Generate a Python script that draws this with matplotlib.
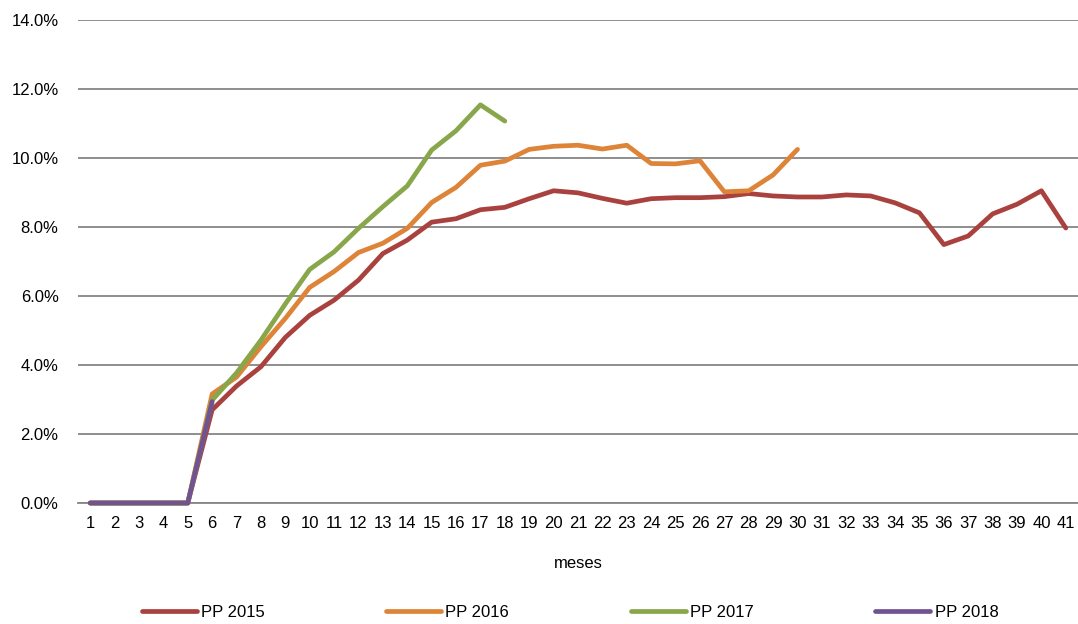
import matplotlib
matplotlib.use("Agg")
import matplotlib.pyplot as plt
from matplotlib.ticker import PercentFormatter

plt.rcParams['font.family'] = ['Liberation Sans', 'DejaVu Sans']

months = list(range(1, 42))

# values in %
pp2015 = [0, 0, 0, 0, 0, 2.70, 3.39, 3.95, 4.80, 5.44, 5.88, 6.46, 7.23, 7.62, 8.14,
          8.24, 8.50, 8.57, 8.82, 9.05, 8.99, 8.83, 8.69, 8.82, 8.85, 8.85, 8.88, 8.97,
          8.90, 8.87, 8.87, 8.93, 8.90, 8.70, 8.41, 7.49, 7.74, 8.38, 8.66, 9.05, 7.97]
pp2016 = [0, 0, 0, 0, 0, 3.16, 3.65, 4.53, 5.35, 6.25, 6.71, 7.26, 7.53, 7.96, 8.71,
          9.15, 9.79, 9.91, 10.25, 10.34, 10.37, 10.26, 10.37, 9.84, 9.83, 9.92, 9.02,
          9.05, 9.51, 10.25]
pp2017 = [0, 0, 0, 0, 0, 2.98, 3.77, 4.72, 5.77, 6.77, 7.28, 7.96, 8.59, 9.19, 10.23,
          10.79, 11.54, 11.07]
pp2018 = [0, 0, 0, 0, 0, 2.94]

series = [("PP 2015", pp2015, "#A9423F"),
          ("PP 2016", pp2016, "#DD8438"),
          ("PP 2017", pp2017, "#88A64A"),
          ("PP 2018", pp2018, "#705491")]

fig = plt.figure(figsize=(10.78, 6.24), dpi=100)
ax = fig.add_axes([78/1078, 1 - 503/624, 1000/1078, 483/624])

for name, vals, col in series:
    ax.plot(months[:len(vals)], vals, color=col, lw=3.4, label=name,
            solid_capstyle="round", solid_joinstyle="round", zorder=3,
            clip_on=False)

ax.set_xlim(0.5, 41.5)
ax.set_ylim(0, 14)
ax.set_yticks([0, 2, 4, 6, 8, 10, 12, 14])
ax.yaxis.set_major_formatter(PercentFormatter(decimals=1))
ax.set_xticks(months)
ax.grid(axis="y", color="#868686", lw=1.3)
ax.set_axisbelow(True)
for s in ["top", "right", "left"]:
    ax.spines[s].set_visible(False)
ax.spines["bottom"].set_color("#868686")
ax.spines["bottom"].set_linewidth(1.3)
ax.tick_params(axis="both", length=0, labelsize=12, colors="black")
ax.tick_params(axis="x", pad=9)
ax.tick_params(axis="y", pad=14)
ax.set_xlabel("meses", fontsize=12, labelpad=18)

ax.legend(loc="center", bbox_to_anchor=(0.492, -0.2257), ncol=4,
          frameon=False, fontsize=12, handlelength=3.3, handletextpad=0.25,
          columnspacing=7.3)

fig.savefig("out.png", dpi=100)
